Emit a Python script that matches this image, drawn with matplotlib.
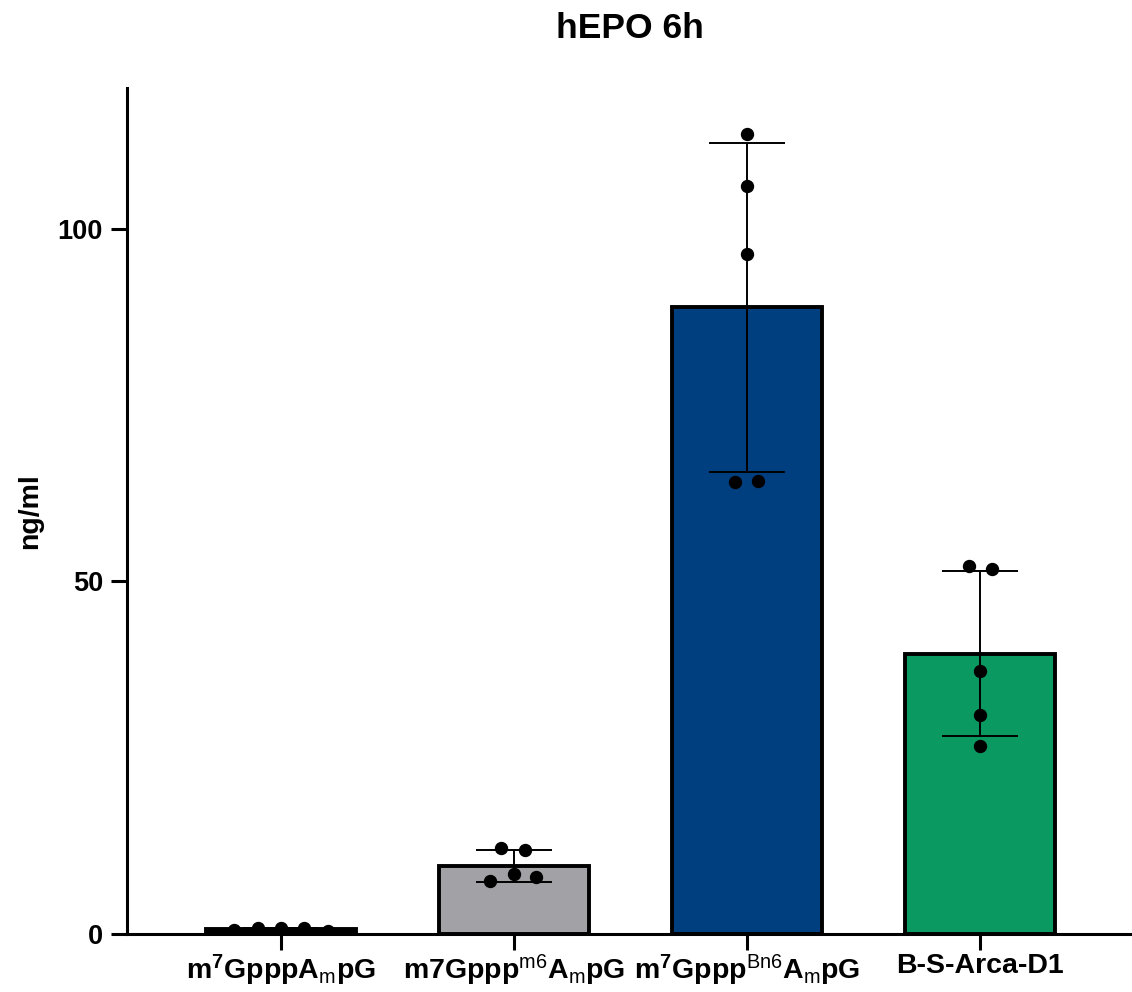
import numpy as np
import matplotlib
matplotlib.use('Agg')
import matplotlib.pyplot as plt

plt.rcParams['font.family'] = ['Liberation Sans', 'DejaVu Sans']
plt.rcParams['mathtext.fontset'] = 'custom'
plt.rcParams['mathtext.rm'] = 'Liberation Sans'
plt.rcParams['mathtext.bf'] = 'Liberation Sans:bold'
plt.rcParams['mathtext.it'] = 'Liberation Sans:italic'
plt.rcParams['mathtext.default'] = 'regular'

# data (ng/ml, 5 replicates per group)
labels = [r'm$^{\mathbf{7}}$GpppA$_{\mathrm{m}}$pG',
          r'm7Gppp$^{\mathrm{m6}}$A$_{\mathrm{m}}$pG',
          r'm$^{\mathbf{7}}$Gppp$^{\mathrm{Bn6}}$A$_{\mathrm{m}}$pG',
          'B-S-Arca-D1']
g1 = [0.6, 0.9, 0.8, 0.8, 0.4]
g2 = [12.2, 11.9, 8.5, 8.1, 7.5]
g3 = [113.5, 106.1, 96.4, 64.1, 64.3]
g4 = [52.2, 51.7, 37.3, 31.0, 26.7]
# horizontal scatter of the dots as drawn
jit1 = [-0.2, -0.1, 0.0, 0.1, 0.2]
jit2 = [-0.056, 0.047, 0.0, 0.094, -0.103]
jit3 = [0.0, 0.0, 0.0, -0.05, 0.047]
jit4 = [-0.047, 0.05, 0.0, 0.0, 0.0]
colors = ['#000000', '#A2A1A6', '#003F7F', '#0B9962']

groups = [g1, g2, g3, g4]
jits = [jit1, jit2, jit3, jit4]
means = [np.mean(g) for g in groups]
sds = [np.std(g, ddof=1) for g in groups]
x = np.arange(len(groups))

fig = plt.figure(figsize=(11.32, 9.92), dpi=100)
ax = fig.add_axes([0.1122, 0.0585, 0.8878, 0.8528])

ax.bar(x, means, width=0.645, color=colors, edgecolor='black', linewidth=2.8, zorder=2)
ax.errorbar(x, means, yerr=sds, fmt='none', ecolor='black', elinewidth=1.4,
            capsize=27.5, capthick=1.4, zorder=3)
for i, (g, j) in enumerate(zip(groups, jits)):
    ax.plot(i + np.array(j), g, 'o', color='black', markersize=8.6, zorder=4)

ax.set_xlim(-0.661, 3.652)
ax.set_ylim(0, 120)
ax.set_yticks([0, 50, 100])
ax.set_xticks(x)
ax.set_xticklabels(labels, fontsize=20.5, fontweight='bold')
for t in ax.get_yticklabels():
    t.set_fontsize(19.5)
    t.set_fontweight('bold')

for s in ['top', 'right']:
    ax.spines[s].set_visible(False)
for s in ['left', 'bottom']:
    ax.spines[s].set_linewidth(2.2)
ax.tick_params(axis='both', length=11.5, width=2.2, direction='out')
ax.tick_params(axis='x', pad=2)
ax.tick_params(axis='y', pad=5.8)

ax.set_ylabel('ng/ml', fontsize=20.5, fontweight='bold')
ax.yaxis.set_label_coords(-0.0836, 0.5)
ax.set_title('hEPO 6h', fontsize=25.5, fontweight='bold', pad=36)

fig.savefig('out.png', dpi=100)
